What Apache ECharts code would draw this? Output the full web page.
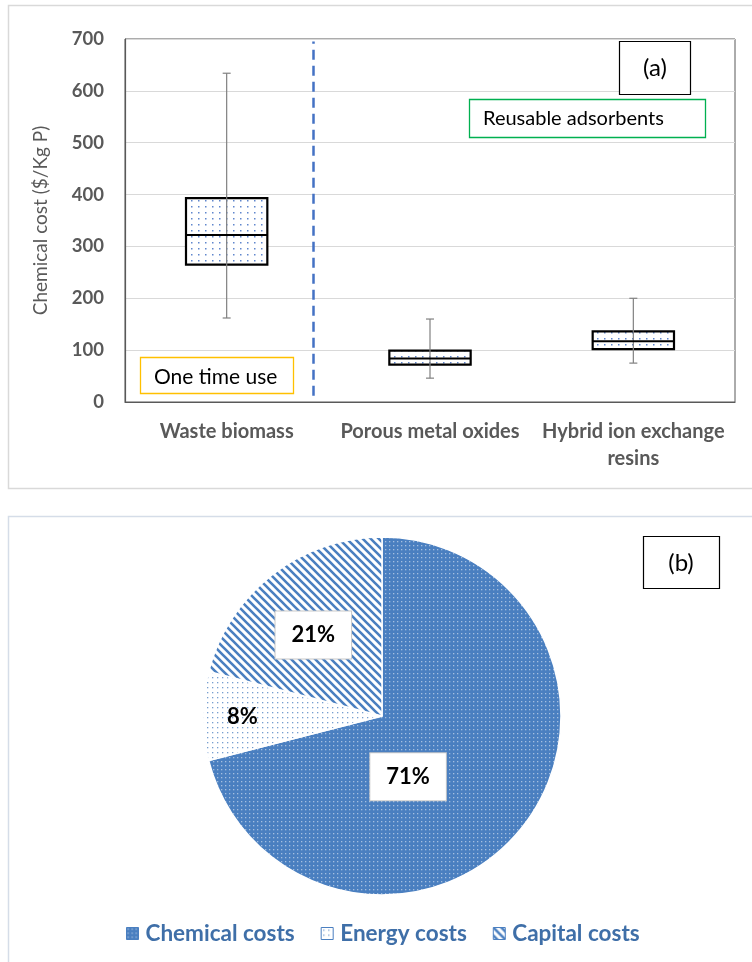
<!DOCTYPE html>
<html>
<head>
<meta charset="utf-8">
<script src="https://cdn.jsdelivr.net/npm/echarts@6/dist/echarts.min.js"></script>
<style>
html,body{margin:0;padding:0;background:#fff;}
#c{width:752px;height:962px;}
</style>
</head>
<body>
<div id="c"></div>
<script>
// ---- Panel (a) data ----
var categories = ['Waste biomass', 'Porous metal oxides', 'Hybrid ion exchange\nresins'];
var whiskerMin = [162, 46, 75];
var q1 = [265, 72, 102];
var median = [322, 84, 117];
var q3 = [393, 99, 136];
var whiskerMax = [634, 160, 200];
var yTicks = [0, 100, 200, 300, 400, 500, 600, 700];
var dividerPos = 0.925; // between first and second category (category units)

// ---- Panel (b) data ----
var pieNames = ['Chemical costs', 'Energy costs', 'Capital costs'];
var pieValues = [71, 8, 21];

function makePattern(kind) {
  var c = document.createElement('canvas');
  var ctx;
  if (kind === 'box') {
    c.width = 7; c.height = 6;
    ctx = c.getContext('2d');
    ctx.fillStyle = '#ffffff'; ctx.fillRect(0, 0, 7, 6);
    ctx.fillStyle = 'rgba(68,114,196,0.85)';
    ctx.fillRect(2, 2, 1.5, 1.5);
  } else if (kind === 'chem') {
    c.width = 4; c.height = 4;
    ctx = c.getContext('2d');
    ctx.fillStyle = '#4a7fc0'; ctx.fillRect(0, 0, 4, 4);
    ctx.fillStyle = 'rgba(255,255,255,0.5)';
    ctx.fillRect(1, 1, 1.3, 1.3);
  } else if (kind === 'energy') {
    c.width = 5; c.height = 5;
    ctx = c.getContext('2d');
    ctx.fillStyle = '#ffffff'; ctx.fillRect(0, 0, 5, 5);
    ctx.fillStyle = 'rgba(74,127,192,0.75)';
    ctx.fillRect(2, 2, 1.3, 1.3);
  } else {
    c.width = 8; c.height = 8;
    ctx = c.getContext('2d');
    ctx.fillStyle = '#ffffff'; ctx.fillRect(0, 0, 8, 8);
    ctx.strokeStyle = '#4a7fc0'; ctx.lineWidth = 2.6;
    ctx.beginPath();
    ctx.moveTo(-8, 0); ctx.lineTo(8, 16);
    ctx.moveTo(0, 0); ctx.lineTo(8, 8);
    ctx.moveTo(0, -8); ctx.lineTo(16, 8);
    ctx.moveTo(-8, -8); ctx.lineTo(8, 8);
    ctx.stroke();
  }
  return { image: c, repeat: 'repeat' };
}

var boxFill = makePattern('box');
var pieFills = [makePattern('chem'), makePattern('energy'), makePattern('cap')];

// label styling per slice (kept separate from data)
var boxedLabel = {
  backgroundColor: '#ffffff', borderColor: '#c8c8c8', borderWidth: 1,
  padding: [14, 16, 11, 16]
};
var pieLabelStyles = [boxedLabel, { backgroundColor: 'transparent', padding: 0 }, boxedLabel];
var pieLabelShift = [[-47, 4], [-47, 1], [-12, -8]];

var boxData = categories.map(function (c, i) {
  return [i, whiskerMin[i], q1[i], median[i], q3[i], whiskerMax[i]];
});

function renderBox(params, api) {
  var x = api.value(0);
  var pMin = api.coord([x, api.value(1)]);
  var pQ1 = api.coord([x, api.value(2)]);
  var pMed = api.coord([x, api.value(3)]);
  var pQ3 = api.coord([x, api.value(4)]);
  var pMax = api.coord([x, api.value(5)]);
  var bw = api.size([1, 0])[0] * 0.4;
  var cx = pMed[0];
  var cap = 4;
  return {
    type: 'group',
    children: [
      { type: 'rect', shape: { x: cx - bw / 2, y: pQ3[1], width: bw, height: pQ1[1] - pQ3[1] },
        style: { fill: boxFill, stroke: '#000', lineWidth: 2.2 } },
      { type: 'line', shape: { x1: cx, y1: pMax[1], x2: cx, y2: pMin[1] },
        style: { stroke: '#808080', lineWidth: 1.2 } },
      { type: 'line', shape: { x1: cx - cap, y1: pMax[1], x2: cx + cap, y2: pMax[1] },
        style: { stroke: '#808080', lineWidth: 1.2 } },
      { type: 'line', shape: { x1: cx - cap, y1: pMin[1], x2: cx + cap, y2: pMin[1] },
        style: { stroke: '#808080', lineWidth: 1.2 } },
      { type: 'line', shape: { x1: cx - bw / 2, y1: pMed[1], x2: cx + bw / 2, y2: pMed[1] },
        style: { stroke: '#000', lineWidth: 2 } }
    ]
  };
}

var chart = echarts.init(document.getElementById('c'), null, { renderer: 'canvas' });

var FONT = 'Lato';

var option = {
  animation: false,
  backgroundColor: '#ffffff',
  textStyle: { fontFamily: FONT },
  grid: { left: 125, top: 39, width: 610, height: 363, show: true, borderColor: '#595959', borderWidth: 1, containLabel: false },
  xAxis: [
    { type: 'category', data: categories, gridIndex: 0,
      axisLine: { show: true, lineStyle: { color: '#595959', width: 1.2 } },
      axisTick: { show: false },
      axisLabel: { color: '#595959', fontSize: 20, fontWeight: 'bold', fontFamily: FONT, margin: 16, lineHeight: 27, interval: 0 },
      splitLine: { show: false } },
    { type: 'value', gridIndex: 0, min: 0, max: 3, show: false }
  ],
  yAxis: [
    { type: 'value', min: yTicks[0], max: yTicks[yTicks.length - 1], interval: 100,
      name: 'Chemical cost ($/Kg P)', nameLocation: 'middle', nameGap: 75,
      nameTextStyle: { color: '#595959', fontSize: 19, fontFamily: FONT },
      axisLine: { show: true, lineStyle: { color: '#595959', width: 1.2 } },
      axisTick: { show: false },
      axisLabel: { color: '#595959', fontSize: 18.5, fontWeight: 'bold', fontFamily: FONT, margin: 21 },
      splitLine: { show: true, lineStyle: { color: '#d9d9d9', width: 1 } } }
  ],
  legend: {
    data: pieNames, bottom: 12, left: 121, itemGap: 26, itemWidth: 12, itemHeight: 12,
    icon: 'rect',
    itemStyle: { borderColor: '#4a7fc0', borderWidth: 1 },
    textStyle: { color: '#3f6fa8', fontSize: 22.5, fontWeight: 'bold', fontFamily: FONT, padding: [0, 0, 0, 2] }
  },
  series: [
    { type: 'custom', name: 'box', xAxisIndex: 0, yAxisIndex: 0, renderItem: renderBox,
      encode: { x: 0, y: [1, 2, 3, 4, 5] }, data: boxData, z: 3 },
    { type: 'line', xAxisIndex: 1, yAxisIndex: 0, data: [], silent: true,
      markLine: { symbol: 'none', silent: true, label: { show: false },
        lineStyle: { color: '#4472c4', width: 2.5, type: [10, 6] },
        data: [[{ coord: [dividerPos, 12] }, { coord: [dividerPos, 695] }]] } },
    { type: 'pie', center: [382, 716], radius: 179, startAngle: 90, clockwise: true,
      avoidLabelOverlap: false,
      itemStyle: { borderColor: '#ffffff', borderWidth: 1.5 },
      label: { show: true, position: 'inside', formatter: '{c}%', color: '#000', fontSize: 22, fontWeight: 'bold', fontFamily: FONT },
      labelLine: { show: false },
      labelLayout: function (p) {
        var s = pieLabelShift[p.dataIndex];
        return { dx: s[0], dy: s[1] };
      },
      data: pieNames.map(function (n, i) {
        return { name: n, value: pieValues[i], itemStyle: { color: pieFills[i] }, label: pieLabelStyles[i] };
      })
    }
  ],
  graphic: [
    { type: 'rect', shape: { x: 8.5, y: 5.5, width: 760, height: 483 }, style: { fill: 'none', stroke: '#d9d9d9', lineWidth: 1.5 }, z: -10 },
    { type: 'rect', shape: { x: 8.5, y: 516.5, width: 760, height: 460 }, style: { fill: 'none', stroke: '#d5dde8', lineWidth: 1.5 }, z: -10 },
    { type: 'rect', shape: { x: 619.5, y: 41.5, width: 71, height: 53 }, style: { fill: '#fff', stroke: '#000', lineWidth: 1.2 }, z: 20 },
    { type: 'text', x: 655, y: 68, style: { text: '(a)', fill: '#000', font: '24px ' + FONT, textAlign: 'center', textVerticalAlign: 'middle' }, z: 21 },
    { type: 'rect', shape: { x: 469.5, y: 99.5, width: 236, height: 38 }, style: { fill: '#fff', stroke: '#00b050', lineWidth: 1.3 }, z: 20 },
    { type: 'text', x: 483, y: 119, style: { text: 'Reusable adsorbents', fill: '#000', font: '20px ' + FONT, textVerticalAlign: 'middle' }, z: 21 },
    { type: 'rect', shape: { x: 140.5, y: 357.5, width: 153, height: 36 }, style: { fill: '#fff', stroke: '#ffc000', lineWidth: 1.3 }, z: 20 },
    { type: 'text', x: 154, y: 377, style: { text: 'One time use', fill: '#000', font: '21px ' + FONT, textVerticalAlign: 'middle' }, z: 21 },
    { type: 'rect', shape: { x: 643.5, y: 536.5, width: 76, height: 52 }, style: { fill: '#fff', stroke: '#000', lineWidth: 1.2 }, z: 20 },
    { type: 'text', x: 681, y: 563, style: { text: '(b)', fill: '#000', font: '24px ' + FONT, textAlign: 'center', textVerticalAlign: 'middle' }, z: 21 }
  ]
};

chart.setOption(option);
</script>
</body>
</html>
